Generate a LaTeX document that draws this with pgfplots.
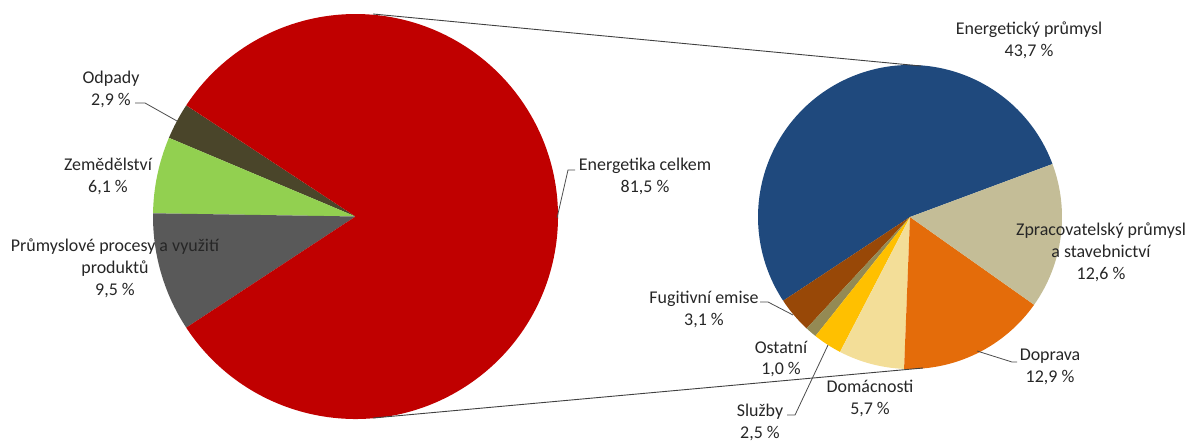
\documentclass[border=0pt]{standalone}
\usepackage{pgfplots}
\pgfplotsset{compat=1.18}
\usepackage{pgfplotstable}
\usepackage{fontspec}
\setmainfont{Carlito}

\definecolor{lcol0}{HTML}{4A452A}
\definecolor{lcol1}{HTML}{92D050}
\definecolor{lcol2}{HTML}{595959}
\definecolor{lcol3}{HTML}{C00000}
\definecolor{rcol0}{HTML}{1F497D}
\definecolor{rcol1}{HTML}{984807}
\definecolor{rcol2}{HTML}{948A54}
\definecolor{rcol3}{HTML}{FFC000}
\definecolor{rcol4}{HTML}{F3DE98}
\definecolor{rcol5}{HTML}{E46C0A}
\definecolor{rcol6}{HTML}{C4BD97}

% left pie, counter-clockwise from the top of the small slices
\pgfplotstableread{
name val
Odpady 2.9
Zemedelstvi 6.1
Prumysl 9.5
Energetika 81.5
}\leftdata
% right pie (Energetika celkem split), counter-clockwise
\pgfplotstableread{
name val
Energeticky 43.7
Fugitivni 3.1
Ostatni 1.0
Sluzby 2.5
Domacnosti 5.7
Doprava 12.9
Zpracovatelsky 12.6
}\rightdata

\newcommand\computeangles[4]{%
  \pgfmathsetmacro\cur{#3}%
  \global\let\gcur\cur
  \pgfplotstableforeachcolumnelement{val}\of#1\as\v{%
    \pgfmathsetmacro\nxt{\gcur+\v/#4*360}%
    \expandafter\xdef\csname #2s\pgfplotstablerow\endcsname{\gcur}%
    \expandafter\xdef\csname #2e\pgfplotstablerow\endcsname{\nxt}%
    \global\let\gcur\nxt
  }%
}
\computeangles{\leftdata}{L}{146.7}{100}
\computeangles{\rightdata}{R}{20.4}{81.5}

\newcommand\slice[6]{\fill[#6] (axis cs:#1,#2) -- ([shift={(#4:#3bp)}]axis cs:#1,#2) arc[start angle=#4, end angle=#5, radius=#3bp] -- cycle;}

\begin{document}
\begin{tikzpicture}
\begin{axis}[
  scale only axis, width=1192bp, height=441bp,
  xmin=0, xmax=1192, ymin=0, ymax=441,
  hide axis, clip=false,
]
\path (axis cs:0,0) rectangle (axis cs:1192,441);
\pgfplotsinvokeforeach{0,...,3}{%
  \edef\temp{\noexpand\slice{355.5}{224.5}{202.5}{\csname Ls#1\endcsname}{\csname Le#1\endcsname}{lcol#1}}\temp
}
\pgfplotsinvokeforeach{0,...,6}{%
  \edef\temp{\noexpand\slice{910}{224}{152}{\csname Rs#1\endcsname}{\csname Re#1\endcsname}{rcol#1}}\temp
}
% connector lines
\draw[black!75, line width=0.9bp] (axis cs:373,427) -- (axis cs:921,375);
\draw[black!75, line width=0.9bp] (axis cs:373,23) -- (axis cs:923,73);
% leader lines
\draw[black!70, line width=0.8bp] (axis cs:135,338) -- (axis cs:145,338) -- (axis cs:177,320);
\draw[black!70, line width=0.8bp] (axis cs:575,271) -- (axis cs:568,271) -- (axis cs:557,223);
\draw[black!70, line width=0.8bp] (axis cs:1017,79) -- (axis cs:1012,79) -- (axis cs:977,90);
\draw[black!70, line width=0.8bp] (axis cs:787,26) -- (axis cs:795,26) -- (axis cs:828,96);
\draw[black!70, line width=0.8bp] (axis cs:760,139) -- (axis cs:768,139) -- (axis cs:793,126);
% labels
\tikzset{lbl/.style={align=center, inner sep=0pt, text=black!85, font=\fontsize{18}{22}\selectfont}}
\node[lbl] at (axis cs:111,352) {Odpady\\2,9 \%};
\node[lbl] at (axis cs:108,265) {Zemědělství\\6,1 \%};
\node[lbl] at (axis cs:115,173) {Průmyslové procesy a využití\\produktů\\9,5 \%};
\node[lbl] at (axis cs:645,265) {Energetika celkem\\81,5 \%};
\node[lbl] at (axis cs:1029,401) {Energetický průmysl\\43,7 \%};
\node[lbl] at (axis cs:1101,189) {Zpracovatelský průmysl\\a stavebnictví\\12,6 \%};
\node[lbl] at (axis cs:1050,74) {Doprava\\12,9 \%};
\node[lbl] at (axis cs:870,43) {Domácnosti\\5,7 \%};
\node[lbl] at (axis cs:760,19) {Služby\\2,5 \%};
\node[lbl] at (axis cs:781,82) {Ostatní\\1,0 \%};
\node[lbl] at (axis cs:704,132) {Fugitivní emise\\3,1 \%};
\end{axis}
\end{tikzpicture}
\end{document}
